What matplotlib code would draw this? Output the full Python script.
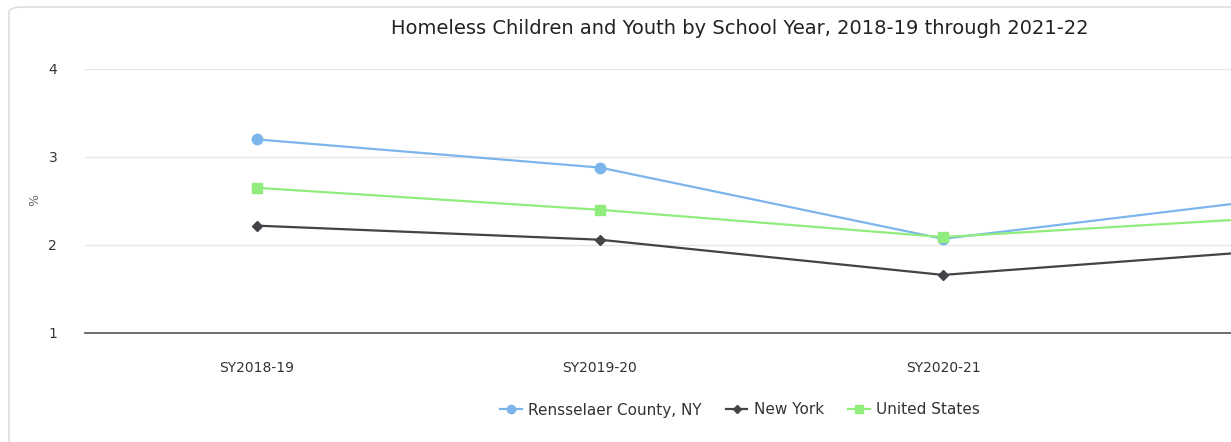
import numpy as np
import matplotlib.pyplot as plt
from matplotlib.patches import FancyBboxPatch

plt.rcParams['font.family'] = ['DejaVu Sans']

years = ['SY2018-19', 'SY2019-20', 'SY2020-21', 'SY2021-22']
rensselaer = [3.20, 2.88, 2.07, 2.54]
new_york = [2.22, 2.06, 1.66, 1.95]
united_states = [2.65, 2.40, 2.09, 2.32]

W, H = 1231, 442
fig = plt.figure(figsize=(W / 100, H / 100), dpi=100)

# rounded chart border, cut off on the right and bottom like the screenshot
frame = FancyBboxPatch((9 / W, 1 - 500 / H), 1400 / W, 493 / H,
                       boxstyle='round,pad=0,rounding_size=0.012',
                       transform=fig.transFigure, facecolor='none',
                       edgecolor='#dddddd', linewidth=1.2, zorder=-1)
fig.patches.append(frame)

left, right = 85, W + 2
top, bottom = 69, 333
ax = fig.add_axes([left / W, 1 - bottom / H, (right - left) / W, (bottom - top) / H])
ax.set_facecolor('none')

x = np.arange(len(years))
ax.plot(x, rensselaer, color='#7cb5ec', lw=1.6, marker='o', ms=7.5, label='Rensselaer County, NY', zorder=3)
ax.plot(x, new_york, color='#434348', lw=1.6, marker='D', ms=5.5, label='New York', zorder=3)
ax.plot(x, united_states, color='#90ed7d', lw=1.6, marker='s', ms=7.5, label='United States', zorder=4)

ax.set_xticks(x)
ax.set_xticklabels(years)
ax.set_yticks([1, 2, 3, 4])
ax.set_ylim(1, 4)
# last school year sits past the right edge of the screenshot
ax.set_xlim(-0.501, (right - 257) / 343)
ax.grid(axis='y', color='#e6e6e6', lw=1)
ax.set_axisbelow(True)
for s in ['top', 'right', 'left']:
    ax.spines[s].set_visible(False)
ax.spines['bottom'].set_color('#555555')
ax.spines['bottom'].set_linewidth(1.2)
ax.tick_params(length=0, labelsize=10, colors='#333333')
ax.tick_params(axis='y', pad=20)
ax.tick_params(axis='x', pad=20)

fig.text(35 / W, 1 - 200 / H, '%', rotation=90, ha='center', va='center',
         color='#666666', fontsize=9)
fig.text(740 / W, 1 - 28 / H, 'Homeless Children and Youth by School Year, 2018-19 through 2021-22',
         ha='center', va='center', fontsize=14, color='#222222')

fig.legend(loc='center', bbox_to_anchor=(740 / W, 1 - 410 / H), ncol=3, frameon=False,
           fontsize=11, handlelength=1.4, columnspacing=1.6, handletextpad=0.4,
           labelcolor='#333333', markerscale=0.8)

fig.savefig('out.png', dpi=100)
